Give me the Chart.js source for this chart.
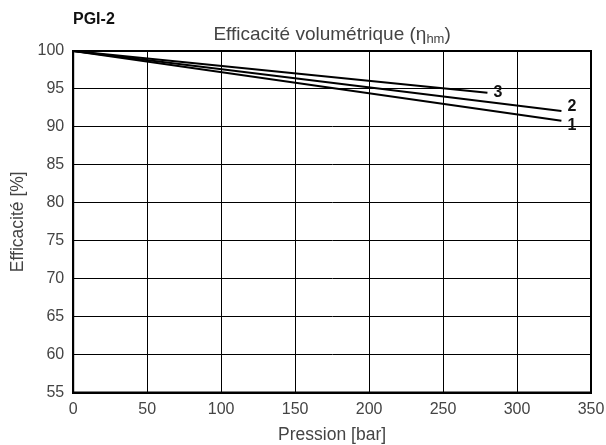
<!DOCTYPE html>
<html>
<head>
<meta charset="utf-8">
<script src="https://cdn.jsdelivr.net/npm/chart.js@4/dist/chart.umd.min.js"></script>
<style>
  body { margin: 0; background: #fff; }
  #wrap { width: 606px; height: 445px; }
</style>
</head>
<body>
<div id="wrap"><canvas id="myChart" width="606" height="445"></canvas></div>
<script>
// Courbes d'efficacité (pression en bar -> efficacité en %)
const curveNames = ['1', '2', '3'];
const pressure1 = [0, 330];
const eff1 = [100, 90.8];
const pressure2 = [0, 330];
const eff2 = [100, 92.1];
const pressure3 = [0, 280];
const eff3 = [100, 94.5];

const xTicks = [0, 50, 100, 150, 200, 250, 300, 350];
const yTicks = [55, 60, 65, 70, 75, 80, 85, 90, 95, 100];

const toPoints = (xs, ys) => xs.map((x, i) => ({ x: x, y: ys[i] }));
const series = [
    toPoints(pressure1, eff1),
    toPoints(pressure2, eff2),
    toPoints(pressure3, eff3)
];

const FONT = "'Liberation Sans', Arial, sans-serif";

// Titre, étiquettes des courbes et cadre
const decorPlugin = {
    id: 'decor',
    afterDatasetsDraw(chart) {
        const { ctx, chartArea, scales } = chart;
        ctx.save();
        // cadre épais
        ctx.strokeStyle = '#000';
        ctx.lineWidth = 2;
        ctx.strokeRect(chartArea.left, chartArea.top, chartArea.right - chartArea.left, chartArea.bottom - chartArea.top);

        // étiquettes des courbes
        ctx.fillStyle = '#111';
        ctx.font = 'bold 16px ' + FONT;
        ctx.textBaseline = 'middle';
        ctx.textAlign = 'left';
        series.forEach((pts, i) => {
            const last = pts[pts.length - 1];
            const px = scales.x.getPixelForValue(last.x);
            const py = scales.y.getPixelForValue(last.y);
            let dy = 0;
            if (curveNames[i] === '1') dy = 5;
            if (curveNames[i] === '2') dy = -4;
            ctx.fillText(curveNames[i], px + 6, py + dy);
        });

        // PGI-2
        ctx.font = 'bold 16px ' + FONT;
        ctx.textAlign = 'left';
        ctx.textBaseline = 'alphabetic';
        ctx.fillStyle = '#111';
        ctx.fillText('PGI-2', 73, 24);

        // titre avec indice
        const main = 'Efficacité volumétrique (η';
        const sub = 'hm';
        const end = ')';
        ctx.fillStyle = '#444';
        ctx.font = '19px ' + FONT;
        const w1 = ctx.measureText(main).width;
        const w3 = ctx.measureText(end).width;
        ctx.font = '13px ' + FONT;
        const w2 = ctx.measureText(sub).width;
        const cx = (chartArea.left + chartArea.right) / 2;
        let x0 = cx - (w1 + w2 + w3) / 2;
        const base = 40;
        ctx.font = '19px ' + FONT;
        ctx.fillText(main, x0, base);
        ctx.font = '13px ' + FONT;
        ctx.fillText(sub, x0 + w1, base + 3);
        ctx.font = '19px ' + FONT;
        ctx.fillText(end, x0 + w1 + w2, base);
        ctx.restore();
    }
};

const ctx = document.getElementById('myChart').getContext('2d');
new Chart(ctx, {
    type: 'scatter',
    data: {
        datasets: series.map((pts, i) => ({
            label: curveNames[i],
            data: pts,
            showLine: true,
            borderColor: '#000',
            borderWidth: 2,
            pointRadius: 0,
            fill: false
        }))
    },
    options: {
        responsive: false,
        animation: false,
        layout: { autoPadding: false, padding: { top: 51, right: 15, left: 9, bottom: 0 } },
        scales: {
            x: {
                type: 'linear',
                min: 0,
                max: 350,
                afterBuildTicks: (axis) => { axis.ticks = xTicks.map(v => ({ value: v })); },
                afterFit: (axis) => { axis.paddingLeft = 0; axis.paddingRight = 0; },
                grid: { color: '#000', lineWidth: 1, drawTicks: false },
                border: { color: '#000', width: 2 },
                ticks: { color: '#444', font: { family: FONT, size: 16, lineHeight: 1 }, padding: 9 },
                title: { display: true, text: 'Pression [bar]', color: '#444', font: { family: FONT, size: 17.5, lineHeight: 1 }, padding: { top: 0, bottom: 1 } }
            },
            y: {
                type: 'linear',
                min: 55,
                max: 100,
                afterBuildTicks: (axis) => { axis.ticks = yTicks.map(v => ({ value: v })); },
                grid: { color: '#000', lineWidth: 1, drawTicks: false },
                border: { color: '#000', width: 2 },
                ticks: { color: '#444', font: { family: FONT, size: 16 }, padding: 9 },
                title: { display: true, text: 'Efficacité [%]', color: '#444', font: { family: FONT, size: 17.5, lineHeight: 1 }, padding: { top: 0, bottom: 2 } }
            }
        },
        plugins: {
            legend: { display: false },
            title: { display: false },
            tooltip: { enabled: false }
        }
    },
    plugins: [decorPlugin]
});
</script>
</body>
</html>
